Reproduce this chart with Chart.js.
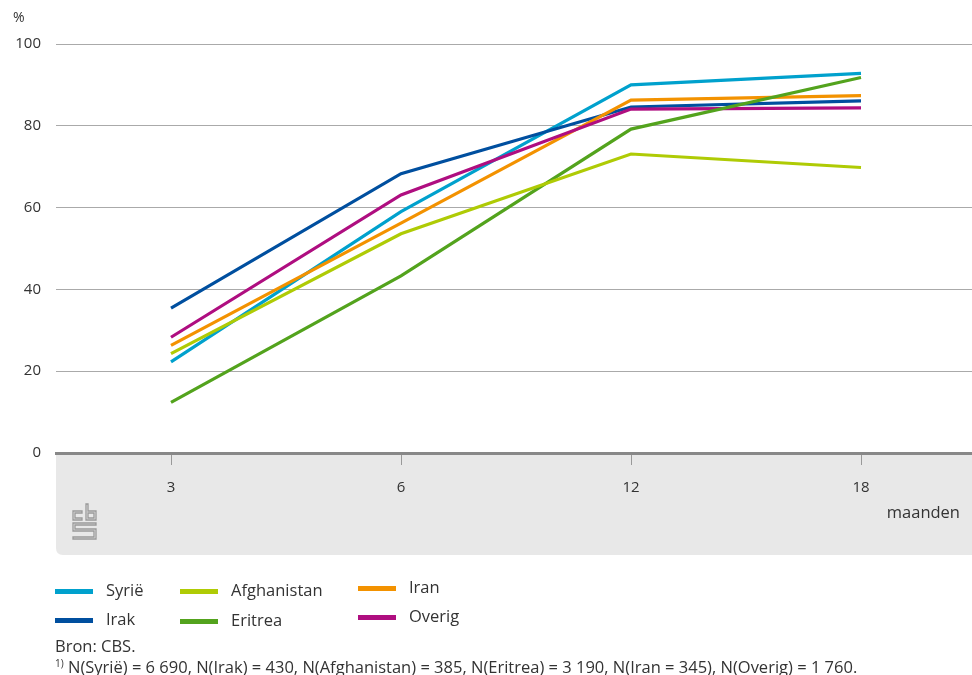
<!DOCTYPE html>
<html lang="nl">

<head>
    <meta charset="UTF-8" />
    <title>Maanden</title>
    <script src="https://cdn.jsdelivr.net/npm/chart.js"></script>
    <style>
        body {
            margin: 0;
            width: 972px;
            height: 675px;
            overflow: hidden;
            background: #fff;
            font-family: "Open Sans", Arial, sans-serif;
            color: #333;
            position: relative;
        }

        #wrap {
            position: absolute;
            left: 0;
            top: 0;
            width: 972px;
            height: 560px;
            overflow: hidden;
        }

        .abs {
            position: absolute;
            font-size: 16.5px;
            white-space: nowrap;
        }

        .leg {
            position: absolute;
            font-size: 16.5px;
            line-height: 20px;
        }

        .leg span {
            display: inline-block;
            width: 38px;
            height: 5px;
            vertical-align: middle;
            margin-right: 13px;
        }

        sup {
            font-size: 10px;
        }
    </style>
</head>

<body>
    <!-- canvas a few pixels wider than the page: the plot runs off the right edge -->
    <div id="wrap"><canvas id="chart" width="976" height="560"></canvas></div>

    <div class="abs" style="left:13px;top:7px;font-size:14px;">%</div>
    <div class="abs" style="right:12px;top:500px;">maanden</div>

    <svg style="position:absolute;left:71px;top:503px" width="28" height="38" viewBox="0 0 28 38" fill="none" stroke="#999" stroke-width="1.3">
        <path d="M2 8 H11 V10 H4 V15 H11 V17 H2 Z" />
        <path d="M15 1 H17 V8 H25 V17 H15 Z M17 10 V15 H23 V10 Z" />
        <path d="M2 20 H25 V22 H4 V26 H25 V36 H2 V34 H23 V28 H2 Z" />
    </svg>

    <div class="leg" style="left:55px;top:580px;"><span style="background:#00a1cd"></span>Syrië</div>
    <div class="leg" style="left:55px;top:609px;"><span style="background:#004f9f"></span>Irak</div>
    <div class="leg" style="left:180px;top:580px;"><span style="background:#afcb05"></span>Afghanistan</div>
    <div class="leg" style="left:180px;top:610px;"><span style="background:#53a31d"></span>Eritrea</div>
    <div class="leg" style="left:358px;top:577px;"><span style="background:#f39200"></span>Iran</div>
    <div class="leg" style="left:358px;top:606px;"><span style="background:#af0e80"></span>Overig</div>

    <div class="abs" style="left:55px;top:634px;">Bron: CBS.</div>
    <div class="abs" style="left:55px;top:655px;"><sup>1)</sup> N(Syrië) = 6 690, N(Irak) = 430, N(Afghanistan) = 385, N(Eritrea) = 3 190, N(Iran = 345), N(Overig) = 1 760.</div>

    <script>
        const months = ['3', '6', '12', '18'];
        const yTicks = [0, 20, 40, 60, 80, 100];

        const syrie = [22.3, 59.0, 90.0, 92.8];
        const irak = [35.4, 68.3, 84.6, 86.1];
        const afghanistan = [24.3, 53.6, 73.1, 69.8];
        const eritrea = [12.4, 43.3, 79.2, 91.8];
        const iran = [26.3, 56.2, 86.3, 87.4];
        const overig = [28.3, 63.1, 84.1, 84.4];

        // grey band behind the x axis
        const axisBand = {
            id: 'axisBand',
            beforeDraw(chart) {
                const { ctx, chartArea } = chart;
                const x0 = chartArea.left, y0 = chartArea.bottom, x1 = chart.width, y1 = 555, r = 7;
                ctx.save();
                ctx.fillStyle = '#e8e8e8';
                ctx.beginPath();
                ctx.moveTo(x0, y0);
                ctx.lineTo(x1, y0);
                ctx.lineTo(x1, y1);
                ctx.lineTo(x0 + r, y1);
                ctx.quadraticCurveTo(x0, y1, x0, y1 - r);
                ctx.closePath();
                ctx.fill();
                ctx.restore();
            }
        };

        const line = (label, data, color) => ({
            label: label,
            data: data,
            borderColor: color,
            backgroundColor: color,
            borderWidth: 3.2,
            pointRadius: 0,
            tension: 0,
        });

        new Chart(document.getElementById('chart'), {
            type: 'line',
            data: {
                labels: months,
                datasets: [
                    line('Afghanistan', afghanistan, '#afcb05'),
                    line('Eritrea', eritrea, '#53a31d'),
                    line('Overig', overig, '#af0e80'),
                    line('Iran', iran, '#f39200'),
                    line('Irak', irak, '#004f9f'),
                    line('Syrië', syrie, '#00a1cd'),
                ],
            },
            plugins: [axisBand],
            options: {
                responsive: false,
                animation: false,
                layout: { padding: { top: 44, right: 0, bottom: 0, left: 0 } },
                plugins: {
                    legend: { display: false },
                    tooltip: { enabled: false },
                },
                scales: {
                    x: {
                        offset: true,
                        afterFit: (s) => { s.height = 107; },
                        border: { display: true, color: '#888', width: 3 },
                        grid: { drawOnChartArea: false, drawTicks: true, tickLength: 12, color: '#999', lineWidth: 1 },
                        ticks: { padding: 14, color: '#333', font: { family: 'Open Sans', size: 15 } },
                    },
                    y: {
                        min: 0,
                        max: 100,
                        afterFit: (s) => { s.width = 56; },
                        afterBuildTicks: (s) => { s.ticks = yTicks.map(v => ({ value: v })); },
                        border: { display: false },
                        grid: { color: '#aaa', lineWidth: 1, drawTicks: false },
                        ticks: { padding: 15, color: '#333', font: { family: 'Open Sans', size: 15 } },
                    },
                },
            },
        });
    </script>
</body>

</html>
